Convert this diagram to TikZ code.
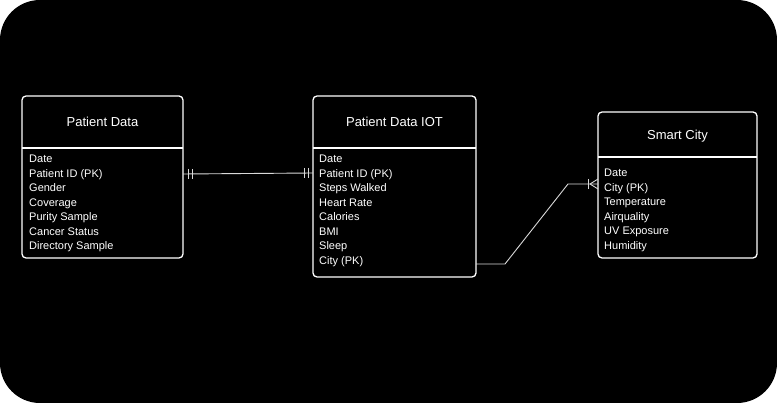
\documentclass[tikz,border=0pt]{standalone}
\usepackage{fontspec}
\setmainfont{Liberation Sans}
\begin{document}
\begin{tikzpicture}[x=1pt,y=-1pt,
  tbl/.style={draw=white,line width=1.3pt,rounded corners=4pt},
  ttl/.style={text=white,font=\fontsize{13}{15}\selectfont},
  fld/.style={text=white,font=\fontsize{11}{14.5}\selectfont,align=left,anchor=north west,inner sep=0pt},
  conn/.style={draw=white!85!black,line width=0.9pt}]
\useasboundingbox (0,0) rectangle (777,403);
\fill[white] (0,0) rectangle (777,403);
\fill[black,rounded corners=40pt] (0,0) rectangle (777,403);
% Patient Data
\draw[tbl] (22,96) rectangle (183,258);
\draw[white,line width=1.3pt] (22,148) -- (183,148);
\node[ttl] (pd) at (102.5,122) {Patient Data};
\node[fld] (pdf) at (29,155) {Date\\Patient ID (PK)\\Gender\\Coverage\\Purity Sample\\Cancer Status\\Directory Sample};
% IOT
\draw[tbl] (313,96) rectangle (476,277);
\draw[white,line width=1.3pt] (313,148) -- (476,148);
\node[ttl] (iot) at (394.5,122) {Patient Data IOT};
\node[fld] (iotf) at (319,155) {Date\\Patient ID (PK)\\Steps Walked\\Heart Rate\\Calories\\BMI\\Sleep\\City (PK)};
% Smart City
\draw[tbl] (598,112) rectangle (757,258);
\draw[white,line width=1.3pt] (598,157) -- (757,157);
\node[ttl] (sc) at (677.5,136) {Smart City};
\node[fld] (scf) at (604,169) {Date\\City (PK)\\Temperature\\Airquality\\UV Exposure\\Humidity};
% connectors
\coordinate (a1) at (183,174);
\coordinate (a2) at (313,173);
\draw[conn] (a1) -- (a2);
\draw[conn] (188,169) -- (188,179) (192,169) -- (192,179);
\draw[conn] (304,168) -- (304,178) (308,168) -- (308,178);
\coordinate (b1) at (476,264);
\coordinate (b2) at (598,184);
\draw[conn] (b1) -- (505,264) -- (568,184) -- (b2);
\draw[conn] (588,179) -- (588,189);
\draw[conn] (590,184) -- (598,179) (590,184) -- (598,189);
\end{tikzpicture}
\end{document}
